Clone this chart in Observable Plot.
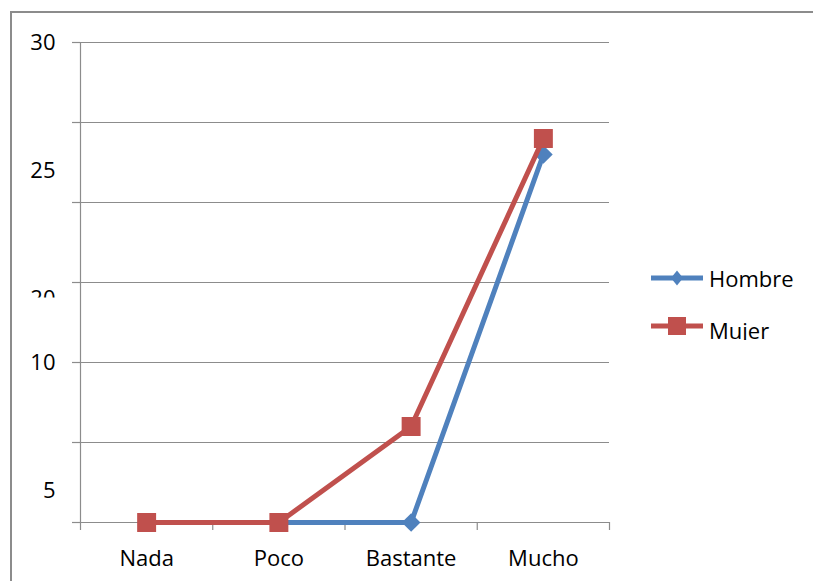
<!DOCTYPE html>
<html>
<head>
<meta charset="utf-8">
<script src="https://cdn.jsdelivr.net/npm/d3@7"></script>
<script src="https://cdn.jsdelivr.net/npm/@observablehq/plot@0.6"></script>
<style>
  html, body { margin: 0; padding: 0; background: #fff; }
  #wrap { position: relative; width: 813px; height: 581px; overflow: hidden; background: #fff; }
  #chart { position: absolute; left: 0; top: 0; }
  #border { position: absolute; left: 10px; top: 11px; width: 1000px; height: 800px;
            border: 2px solid #8c8c8c; pointer-events: none; }
  #legend { position: absolute; left: 0; top: 0; pointer-events: none; }
</style>
</head>
<body>
<div id="wrap">
  <div id="chart"></div>
  <svg id="legend" width="813" height="581"></svg>
  <div id="border"></div>
</div>
<script>
// ---- data ----
const categories = ["Nada", "Poco", "Bastante", "Mucho"];
const hombre = [0, 0, 0, 23];
const mujer = [0, 0, 6, 24];
const gridTicks = [0, 5, 10, 15, 20, 25, 30];
const yLabelText = ["30", "25", "20", "10", "5"];
const yLabelValue = [30, 22, 14, 10, 2];
const yLabelClipped = [false, false, true, false, false];
const seriesNames = ["Hombre", "Mujer"];
const seriesColors = ["#4F81BD", "#C0504D"];

const gray = "#8c8c8c";
const font = "'Open Sans', 'Liberation Sans', sans-serif";
const ns = "http://www.w3.org/2000/svg";

const rows = vals => categories.map((c, i) => ({c, pos: i + 0.5, v: vals[i]}));

function clipRender(index, scales, values, dimensions, context, next) {
  const g = next(index, scales, values, dimensions, context);
  const texts = g.querySelectorAll("text");
  index.forEach((idx, k) => {
    if (!yLabelClipped[idx]) return;
    const t = texts[k];
    if (!t) return;
    const id = "clip-ylabel-" + idx;
    const cp = document.createElementNS(ns, "clipPath");
    cp.setAttribute("id", id);
    const r = document.createElementNS(ns, "rect");
    r.setAttribute("x", -1000);
    r.setAttribute("y", -1000);
    r.setAttribute("width", 3000);
    r.setAttribute("height", 1000 + values.y[idx] - 1);
    cp.appendChild(r);
    g.insertBefore(cp, g.firstChild);
    const w = document.createElementNS(ns, "g");
    w.setAttribute("clip-path", `url(#${id})`);
    t.parentNode.insertBefore(w, t);
    w.appendChild(t);
  });
  return g;
}

const chart = Plot.plot({
  width: 813,
  height: 581,
  marginLeft: 80,
  marginRight: 204,
  marginTop: 42,
  marginBottom: 59,
  x: {domain: [0, categories.length], axis: null},
  y: {domain: [0, 30], axis: null},
  style: {fontFamily: font, fontSize: "22px", background: "transparent", color: gray},
  marks: [
    Plot.ruleY(gridTicks, {stroke: gray, strokeWidth: 1.2}),
    Plot.axisY({ticks: gridTicks, tickSize: 8, tickFormat: () => "", label: null, stroke: gray, strokeWidth: 1.2}),
    Plot.axisX({ticks: d3.range(categories.length + 1), tickSize: 8, tickFormat: () => "", label: null, stroke: gray, strokeWidth: 1.2}),
    Plot.ruleX([0], {stroke: gray, strokeWidth: 1.2}),
    Plot.text(categories, {x: (d, i) => i + 0.5, text: d => d, frameAnchor: "bottom", dy: 43, fill: "#000", fontSize: 22}),
    Plot.text(yLabelText, {y: (d, i) => yLabelValue[i], text: d => d, frameAnchor: "left", dx: -25,
      textAnchor: "end", fill: "#000", fontSize: 22, render: clipRender}),
    Plot.line(rows(hombre), {x: "pos", y: "v", stroke: seriesColors[0], strokeWidth: 5}),
    Plot.dot(rows(hombre), {x: "pos", y: "v", symbol: "diamond2", r: 8.4, fill: seriesColors[0], stroke: "none"}),
    Plot.line(rows(mujer), {x: "pos", y: "v", stroke: seriesColors[1], strokeWidth: 5}),
    Plot.dot(rows(mujer), {x: "pos", y: "v", symbol: "square", r: 10.7, fill: seriesColors[1], stroke: "none"})
  ]
});
document.getElementById("chart").appendChild(chart);

// ---- legend ----
const leg = d3.select("#legend");
leg.append("defs").append("clipPath").attr("id", "legclip")
  .append("rect").attr("x", 0).attr("y", 0).attr("width", 813).attr("height", 340);
seriesNames.forEach((name, i) => {
  const ly = 278 + 48 * i;
  const g = leg.append("g");
  g.append("line").attr("x1", 651).attr("x2", 703).attr("y1", ly).attr("y2", ly)
    .attr("stroke", seriesColors[i]).attr("stroke-width", 5);
  if (i === 0) {
    g.append("path").attr("d", `M677,${ly - 7.5}L683,${ly}L677,${ly + 7.5}L671,${ly}Z`).attr("fill", seriesColors[i]);
  } else {
    g.append("rect").attr("x", 668).attr("y", ly - 9).attr("width", 18).attr("height", 18).attr("fill", seriesColors[i]);
  }
  g.append("text").attr("x", 709).attr("y", 287 + 52 * i)
    .attr("clip-path", "url(#legclip)")
    .attr("font-family", font).attr("font-size", 22).attr("fill", "#000").text(name);
});
</script>
</body>
</html>
